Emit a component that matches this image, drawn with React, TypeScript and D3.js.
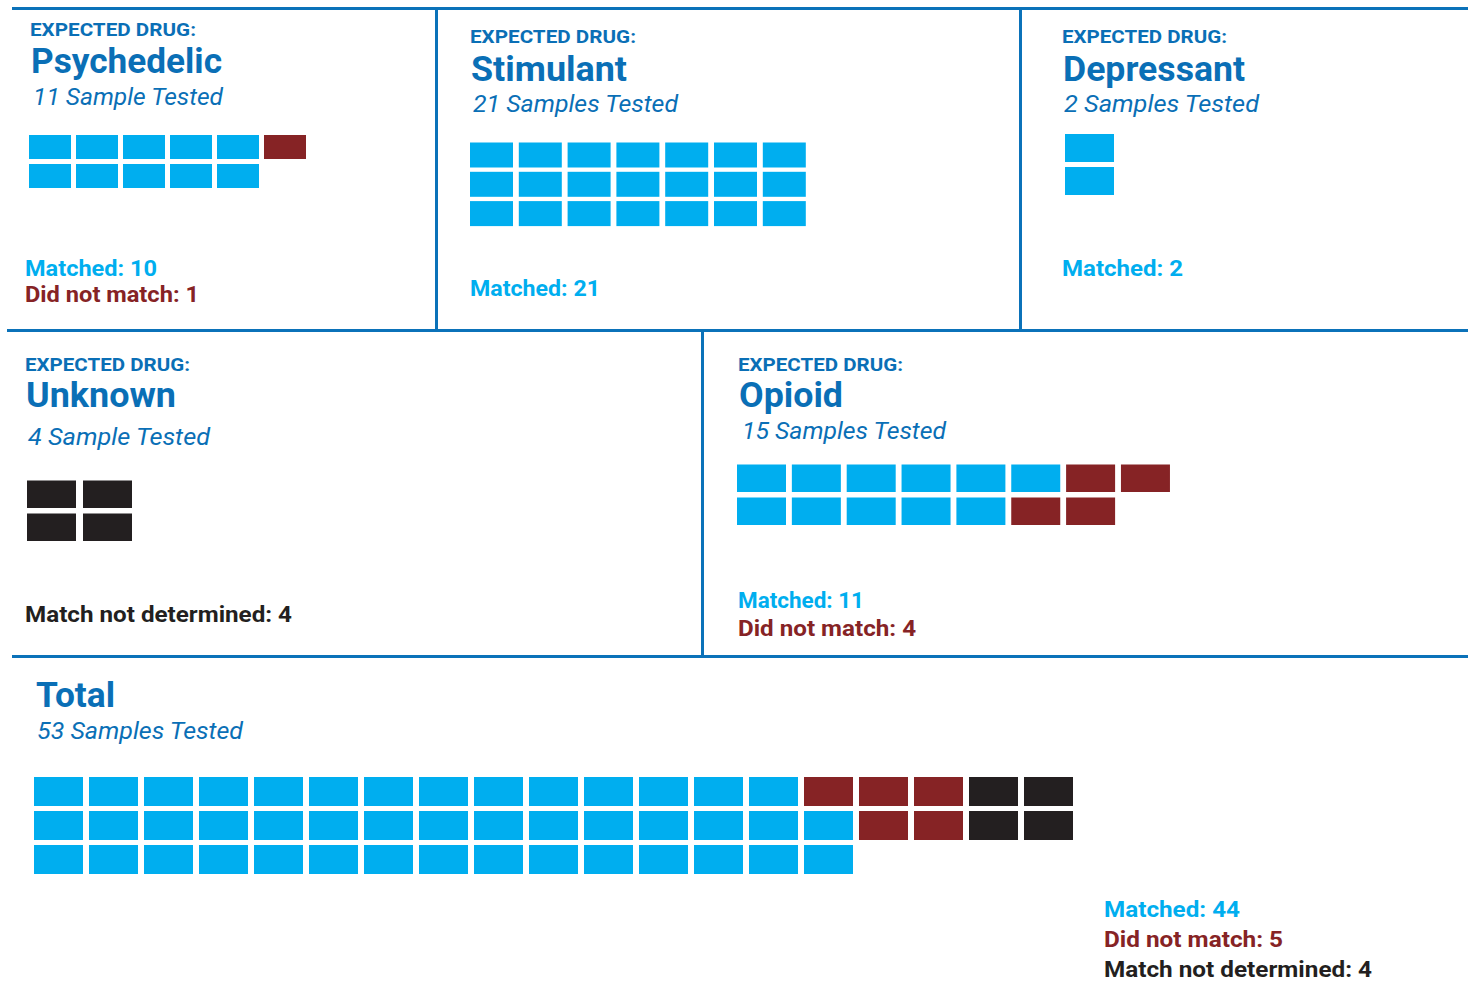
import React from 'react';
import * as d3 from 'd3';

// ---- data ----
const drugNames = ["Psychedelic", "Stimulant", "Depressant", "Unknown", "Opioid", "Total"];
const samplesTested = [11, 21, 2, 4, 15, 53];
const sampleWord = ["Sample", "Samples", "Samples", "Sample", "Samples", "Samples"];
const matchedCounts = [10, 21, 2, 0, 11, 44];
const notMatchedCounts = [1, 0, 0, 0, 4, 5];
const notDeterminedCounts = [0, 0, 0, 4, 0, 4];

// squares in each row of a waffle: [matched, did not match, not determined]
const psychedelicRows = [[5, 1, 0], [5, 0, 0]];
const stimulantRows = [[7, 0, 0], [7, 0, 0], [7, 0, 0]];
const depressantRows = [[1, 0, 0], [1, 0, 0]];
const unknownRows = [[0, 0, 2], [0, 0, 2]];
const opioidRows = [[6, 2, 0], [5, 2, 0]];
const totalRows = [[14, 3, 2], [15, 2, 2], [15, 0, 0]];
const waffleRows = [psychedelicRows, stimulantRows, depressantRows, unknownRows, opioidRows, totalRows];

const statusLabels = ["Matched", "Did not match", "Match not determined"];

// ---- styles ----
const statusColors = ["#00aeef", "#862325", "#231f20"];
const TITLE_BLUE = "#0a6fb6";
const LINE_BLUE = "#0b72b9";
const FONT = "Roboto, 'Open Sans', Arial, sans-serif";

// positions of each panel (px)
const layout = [
  { tx: 30, eyebrowY: 36, eyebrowW: 166, titleY: 73, titleW: 191, subX: 33, subY: 105, subW: 190,
    grid: { x: 29, y: 135, w: 42, h: 24, sx: 47, sy: 29 },
    labX: 25, labY: 276, labDy: 26, labW: [132, 174] },
  { tx: 470, eyebrowY: 43, eyebrowW: 166, titleY: 81, titleW: 156, subX: 473, subY: 112, subW: 205,
    grid: { x: 470, y: 142.5, w: 43, h: 25, sx: 48.8, sy: 29.3 },
    labX: 470, labY: 296, labDy: 26, labW: [130] },
  { tx: 1062, eyebrowY: 43, eyebrowW: 165, titleY: 81, titleW: 182, subX: 1064, subY: 112, subW: 195,
    grid: { x: 1065, y: 134, w: 49, h: 28, sx: 56, sy: 33 },
    labX: 1062, labY: 276, labDy: 26, labW: [121] },
  { tx: 25, eyebrowY: 371, eyebrowW: 165, titleY: 407, titleW: 150, subX: 28, subY: 445, subW: 182,
    grid: { x: 27, y: 480.5, w: 49, h: 27.5, sx: 56, sy: 33 },
    labX: 25, labY: 622, labDy: 28, labW: [267] },
  { tx: 738, eyebrowY: 371, eyebrowW: 165, titleY: 407, titleW: 104, subX: 742, subY: 439, subW: 204,
    grid: { x: 737, y: 464.5, w: 49, h: 27.5, sx: 54.85, sy: 33 },
    labX: 738, labY: 608, labDy: 28, labW: [126, 178] },
  { tx: 35, eyebrowY: 0, eyebrowW: 0, titleY: 707, titleW: 79, subX: 37, subY: 739, subW: 206,
    grid: { x: 34, y: 777, w: 49, h: 29, sx: 55, sy: 34 },
    labX: 1104, labY: 917, labDy: 30, labW: [136, 179, 268] },
];

const Waffle = ({ rows, g }: { rows: number[][]; g: any }) => {
  const maxCols = d3.max(rows, (r) => d3.sum(r)) as number;
  const x = d3.scaleLinear().domain([0, maxCols]).range([g.x, g.x + maxCols * g.sx]);
  const y = d3.scaleLinear().domain([0, rows.length]).range([g.y, g.y + rows.length * g.sy]);
  const cells: { r: number; c: number; s: number }[] = [];
  rows.forEach((row, r) => {
    let c = 0;
    row.forEach((n, s) => {
      d3.range(n).forEach(() => cells.push({ r, c: c++, s }));
    });
  });
  return (
    <g>
      {cells.map((d, i) => (
        <rect key={i} x={x(d.c)} y={y(d.r)} width={g.w} height={g.h} fill={statusColors[d.s]} />
      ))}
    </g>
  );
};

const Panel = ({ i }: { i: number }) => {
  const L = layout[i];
  const counts = [matchedCounts[i], notMatchedCounts[i], notDeterminedCounts[i]];
  const shown = counts.map((n, s) => ({ n, s })).filter((d) => d.n > 0);
  const isTotal = drugNames[i] === "Total";
  return (
    <g>
      {!isTotal && (
        <text x={L.tx} y={L.eyebrowY} fontSize={17.5} fontWeight={700} fill={TITLE_BLUE}
          textLength={L.eyebrowW} lengthAdjust="spacingAndGlyphs">EXPECTED DRUG:</text>
      )}
      <text x={L.tx + 1} y={L.titleY} fontSize={35} fontWeight={700} fill={TITLE_BLUE}
        textLength={L.titleW} lengthAdjust="spacingAndGlyphs">{drugNames[i]}</text>
      <text x={L.subX} y={L.subY} fontSize={23} fontStyle="italic" fill={TITLE_BLUE}
        textLength={L.subW} lengthAdjust="spacingAndGlyphs">{`${samplesTested[i]} ${sampleWord[i]} Tested`}</text>
      <Waffle rows={waffleRows[i]} g={L.grid} />
      {shown.map((d, k) => (
        <text key={k} x={L.labX} y={L.labY + k * L.labDy} fontSize={22} fontWeight={700}
          fill={statusColors[d.s]} textLength={L.labW[k]} lengthAdjust="spacingAndGlyphs">
          {`${statusLabels[d.s]}: ${d.n}`}
        </text>
      ))}
    </g>
  );
};

export default function App() {
  return (
    <svg width={1468} height={990} style={{ position: 'absolute', left: 0, top: 0, background: '#fff' }}
      fontFamily={FONT}>
      <rect width={1468} height={990} fill="#fff" />
      <g stroke={LINE_BLUE} strokeWidth={3}>
        <line x1={12} y1={8.5} x2={1468} y2={8.5} />
        <line x1={436.5} y1={8.5} x2={436.5} y2={330.5} />
        <line x1={1020.5} y1={8.5} x2={1020.5} y2={330.5} />
        <line x1={7} y1={330.5} x2={1468} y2={330.5} />
        <line x1={702.5} y1={330.5} x2={702.5} y2={656.5} />
        <line x1={12} y1={656.5} x2={1468} y2={656.5} />
      </g>
      {drugNames.map((_, i) => <Panel key={i} i={i} />)}
    </svg>
  );
}
